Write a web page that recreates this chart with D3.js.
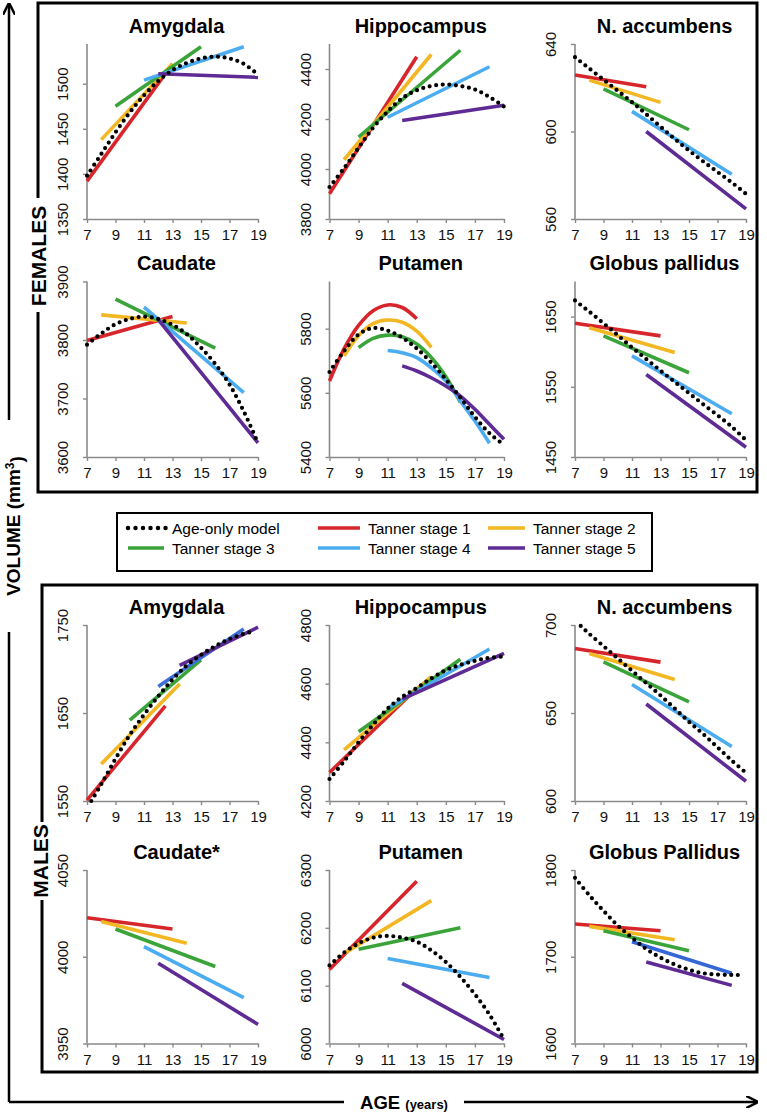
<!DOCTYPE html>
<html><head><meta charset="utf-8">
<script src="https://cdn.jsdelivr.net/npm/d3@7"></script>
<style>
body{margin:0;background:#fff;}
svg text{font-family:"Liberation Sans",Arial,sans-serif;}
</style></head><body>
<svg id="chart" width="767" height="1113"></svg>
<script>
// ---------- data ----------
const xTicks = [7, 9, 11, 13, 15, 17, 19];
const seriesNames = ["Age-only model", "Tanner stage 1", "Tanner stage 2", "Tanner stage 3", "Tanner stage 4", "Tanner stage 5"];
const stageColors = ["#d7262b", "#f2b722", "#3aa43a", "#4bacef", "#5e2a94"];

// Females
const fAmygTicks = [1350, 1400, 1450, 1500];
const fAmygStages = [[[7,1392],[13,1522]],[[8,1438],[13,1522]],[[9,1475],[15,1541]],[[11,1504],[18,1541]],[[12,1511],[19,1507]]];
const fAmygAge = [[7,1398],[8,1422],[9,1446],[10,1468],[11,1487],[12,1503],[13,1515],[14,1523],[15,1528],[16,1530],[17,1528],[18,1522],[19,1510]];

const fHippTicks = [3800, 4000, 4200, 4400];
const fHippStages = [[[7,3901],[13,4449]],[[8,4037],[14,4458]],[[9,4128],[16,4475]],[[11,4207],[18,4409]],[[12,4194],[19,4255]]];
const fHippAge = [[7,3928],[8,4003],[9,4085],[10,4165],[11,4230],[12,4283],[13,4315],[14,4332],[15,4338],[16,4332],[17,4318],[18,4288],[19,4250]];

const fNaccTicks = [560, 600, 640];
const fNaccStages = [[[7,625.8],[12,620.5]],[[8,623.5],[13,613.3]],[[9,619.5],[15,600.8]],[[11,609.2],[18,580.5]],[[12,600],[19,564.6]]];
const fNaccAge = [[7,634],[8,628.8],[9,623.7],[10,618.6],[11,613.4],[12,607.9],[13,602.2],[14,596.6],[15,591.3],[16,586.3],[17,581.5],[18,576.7],[19,571.5]];

const fCaudTicks = [3600, 3700, 3800, 3900];
const fCaudStages = [[[7,3799],[13,3840]],[[8,3843],[14,3829]],[[9,3870],[16,3786]],[[11,3856],[18,3710]],[[12,3835],[19,3624]]];
const fCaudAge = [[7,3792],[8,3811],[9,3827],[10,3836],[11,3840],[12,3836],[13,3826],[14,3810],[15,3787],[16,3759],[17,3724],[18,3678],[19,3624]];

const fPutTicks = [5400, 5600, 5800];
const fPutStages = [
  [[7,5637],[8,5737],[9,5810],[10,5856],[11,5874],[12,5866],[13,5831]],
  [[8,5715],[9,5779],[10,5816],[11,5827],[12,5820],[13,5792],[14,5742]],
  [[9,5741],[10,5770],[11,5780],[12,5775],[13,5752],[14,5710],[15,5650],[16,5570]],
  [[11,5732],[12,5725],[13,5710],[14,5678],[15,5637],[16,5575],[17,5512],[18,5443]],
  [[12,5684],[13,5668],[14,5647],[15,5621],[16,5590],[17,5549],[18,5502],[19,5455]]
];
const fPutAge = [[7,5665],[8,5730],[9,5782],[10,5802],[11,5794],[12,5772],[13,5738],[14,5694],[15,5642],[16,5585],[17,5525],[18,5474],[19,5438]];

const fGpTicks = [1450, 1550, 1650];
const fGpStages = [[[7,1640.5],[13,1622.5]],[[8,1634],[14,1599]],[[9,1622.5],[15,1570]],[[11,1594],[18,1511.6]],[[12,1567.5],[19,1464]]];
const fGpAge = [[7,1673],[8,1657],[9,1640.5],[10,1623.5],[11,1606],[12,1589.5],[13,1573],[14,1557],[15,1541],[16,1525],[17,1509.5],[18,1493],[19,1474]];

// Males
const mAmygTicks = [1550, 1650, 1750];
const mAmygStages = [[[7,1551],[12.5,1658]],[[8,1592],[13.5,1683]],[[10,1642],[15,1710.5]],[[12,1680],[18,1745.5]],[[13.5,1704],[19,1747.5]]];
const mAmygAge = [[7.3,1550],[8,1569],[9,1598],[10,1625],[11,1648],[12,1669],[13,1688],[14,1704],[15,1716],[16,1726],[17,1734],[18,1740],[18.5,1742]];

const mHippTicks = [4200, 4400, 4600, 4800];
const mHippStages = [[[7,4297],[13,4584]],[[8,4374],[14,4624]],[[9,4436],[16,4683]],[[11,4516],[18,4718]],[[12,4547],[19,4703]]];
const mHippAge = [[7,4275],[8,4335],[9,4400],[10,4460],[11,4515],[12,4555],[13,4585],[14,4618],[15,4646],[16,4664],[17,4678],[18,4688],[19,4693]];

const mNaccTicks = [600, 650, 700];
const mNaccStages = [[[7,686.7],[13,678.9]],[[8,683.8],[14,669]],[[9,679.1],[15,656.3]],[[11,666.2],[18,631]],[[12,655.1],[19,611.2]]];
const mNaccAge = [[7.4,699.5],[8,695],[9,688],[10,681],[11,674],[12,667],[13,660],[14,652.5],[15,645],[16,638],[17,630.5],[18,623],[19,616]];

const mCaudTicks = [3950, 4000, 4050];
const mCaudStages = [[[7,4022.5],[13,4016]],[[8,4020.3],[14,4007.8]],[[9,4016],[16,3994.4]],[[11,4005.8],[18,3976.4]],[[12,3996.3],[19,3961]]];
const mCaudAge = [];

const mPutTicks = [6000, 6100, 6200, 6300];
const mPutStages = [[[7,6128],[13,6280.5]],[[8,6155.6],[14,6247]],[[9,6163],[16,6200]],[[11,6147],[18,6114]],[[12,6104],[19,6007]]];
const mPutAge = [[7,6135],[8,6157],[9,6173],[10,6183],[11,6186],[12,6183],[13,6176],[14,6161],[15,6141],[16,6115],[17,6085],[18,6050],[19,6007]];

const mGpTicks = [1600, 1700, 1800];
const mGpStages = [[[7,1737.7],[13,1730]],[[8,1735],[14,1719.6]],[[9,1730],[15,1707]],[[11,1717.3],[18,1681]],[[12,1694],[18,1667]]];
const mGpAge = [[7,1791],[8,1771],[9,1753],[10,1736],[11,1722],[12,1709],[13,1699],[14,1691],[15,1685],[16,1681],[17,1679.5],[18,1679],[18.7,1679]];

// ---------- layout ----------
const colX = [[87, 258], [329.5, 504], [575, 746]];
const rowY = [[219, 44], [457, 281.5], [801, 625], [1043.5, 870]];

const panels = [
  {title:"Amygdala", col:0, row:0, dom:[1350,1544], ticks:fAmygTicks, stages:fAmygStages, age:fAmygAge},
  {title:"Hippocampus", col:1, row:0, dom:[3800,4500], ticks:fHippTicks, stages:fHippStages, age:fHippAge},
  {title:"N. accumbens", col:2, row:0, dom:[560,640], ticks:fNaccTicks, stages:fNaccStages, age:fNaccAge},
  {title:"Caudate", col:0, row:1, dom:[3600,3900], ticks:fCaudTicks, stages:fCaudStages, age:fCaudAge},
  {title:"Putamen", col:1, row:1, dom:[5400,5947], ticks:fPutTicks, stages:fPutStages, age:fPutAge, curved:true},
  {title:"Globus pallidus", col:2, row:1, dom:[1450,1700], ticks:fGpTicks, stages:fGpStages, age:fGpAge},
  {title:"Amygdala", col:0, row:2, dom:[1550,1750], ticks:mAmygTicks, stages:mAmygStages, age:mAmygAge, blue4:"#3a70d8"},
  {title:"Hippocampus", col:1, row:2, dom:[4200,4800], ticks:mHippTicks, stages:mHippStages, age:mHippAge},
  {title:"N. accumbens", col:2, row:2, dom:[600,700], ticks:mNaccTicks, stages:mNaccStages, age:mNaccAge},
  {title:"Caudate*", col:0, row:3, dom:[3950,4050], ticks:mCaudTicks, stages:mCaudStages, age:mCaudAge},
  {title:"Putamen", col:1, row:3, dom:[6000,6300], ticks:mPutTicks, stages:mPutStages, age:mPutAge},
  {title:"Globus Pallidus", col:2, row:3, dom:[1600,1800], ticks:mGpTicks, stages:mGpStages, age:mGpAge, blue4:"#3566d6"}
];

const svg = d3.select("#chart");
svg.append("rect").attr("width",767).attr("height",1113).attr("fill","#fff");

const axisColor = "#8a8a8a";

panels.forEach(p => {
  const [x0, x1] = colX[p.col];
  const [yb, yt] = rowY[p.row];
  const x = d3.scaleLinear().domain([7,19]).range([x0, x1]);
  const y = d3.scaleLinear().domain(p.dom).range([yb, yt]);
  const g = svg.append("g");

  // title
  g.append("text").attr("x", (x0+x1)/2 + 4).attr("y", yt - 11.5)
    .attr("text-anchor","middle").attr("font-size", 20).attr("font-weight","bold")
    .attr("fill","#000").text(p.title);

  // x axis
  const xa = g.append("g").attr("transform",`translate(0,${yb})`)
    .call(d3.axisBottom(x).tickValues(xTicks).tickSize(4).tickSizeOuter(0).tickPadding(3).tickFormat(d3.format("d")));
  // y axis
  const ya = g.append("g").attr("transform",`translate(${x0},0)`)
    .call(d3.axisLeft(y).tickValues(p.ticks).tickSize(4).tickSizeOuter(0).tickPadding(0).tickFormat(d3.format("d")));
  [xa, ya].forEach(a => {
    a.select(".domain").attr("stroke", axisColor).attr("stroke-width", 1.6);
    a.selectAll(".tick line").attr("stroke", axisColor).attr("stroke-width", 1.4);
    a.selectAll("text").attr("fill","#111").attr("font-size", 15)
      .attr("font-family", '"Liberation Sans",Arial,sans-serif');
  });
  ya.select(".domain").attr("d", `M0,${yb}V${yt}`);
  xa.selectAll("text").attr("dy", "0.95em");
  ya.selectAll(".tick text").attr("text-anchor","middle")
    .attr("transform", "translate(-24,0) rotate(-90)").attr("x",0).attr("dy","0.35em");

  // stage lines
  const line = d3.line().x(d => x(d[0])).y(d => y(d[1]));
  if (p.curved) line.curve(d3.curveCatmullRom);
  p.stages.forEach((s, i) => {
    let c = stageColors[i];
    if (i === 3 && p.blue4) c = p.blue4;
    g.append("path").datum(s).attr("d", line).attr("fill","none")
      .attr("stroke", c).attr("stroke-width", 3.6).attr("stroke-linecap","butt");
  });
  // age-only model (dotted)
  if (p.age.length) {
    const aline = d3.line().x(d => x(d[0])).y(d => y(d[1])).curve(d3.curveCatmullRom);
    g.append("path").datum(p.age).attr("d", aline).attr("fill","none")
      .attr("stroke","#000").attr("stroke-width", 4.2).attr("stroke-linecap","round")
      .attr("stroke-dasharray","0,6.6");
  }
});

// ---------- frames ----------
const frame = svg.append("g").attr("fill","none").attr("stroke","#000").attr("stroke-width",3);
frame.append("path").attr("d","M38,198V3H757V492H38V312");
frame.append("path").attr("d","M42,822V585H757V1072H42V900");

svg.append("text").attr("transform","translate(38,256) rotate(-90)").attr("text-anchor","middle")
  .attr("dy","0.36em").attr("font-size",21).attr("font-weight","bold").text("FEMALES");
svg.append("text").attr("transform","translate(40,861) rotate(-90)").attr("text-anchor","middle")
  .attr("dy","0.36em").attr("font-size",21).attr("font-weight","bold").text("MALES");

// arrows
const defs = svg.append("defs");
defs.append("marker").attr("id","arr").attr("viewBox","0 0 10 10").attr("refX",9).attr("refY",5)
  .attr("markerWidth",5).attr("markerHeight",5).attr("orient","auto")
  .append("path").attr("d","M0,0L10,5L0,10").attr("fill","none").attr("stroke","#000").attr("stroke-width",2);
const arr = svg.append("g").attr("stroke","#000").attr("stroke-width",2.5).attr("fill","none");
arr.append("path").attr("d","M9,1102V632");
arr.append("path").attr("d","M9,420V4").attr("marker-end","url(#arr)");
arr.append("path").attr("d","M9,1102H344");
arr.append("path").attr("d","M464,1102H757").attr("marker-end","url(#arr)");

const vt = svg.append("text").attr("transform","translate(13,526) rotate(-90)").attr("text-anchor","middle")
  .attr("dy","0.36em").attr("font-size",19).attr("font-weight","bold");
vt.append("tspan").text("VOLUME (mm");
vt.append("tspan").attr("font-size",12).attr("dy","-0.5em").text("3");
vt.append("tspan").attr("dy","0.5em").attr("font-size",19).text(")");

const ht = svg.append("text").attr("x",404).attr("y",1102).attr("text-anchor","middle")
  .attr("dy","0.36em").attr("font-size",18.5).attr("font-weight","bold");
ht.append("tspan").text("AGE ");
ht.append("tspan").attr("font-size",13).text("(years)");

// ---------- legend ----------
const lg = svg.append("g");
lg.append("rect").attr("x",117).attr("y",513).attr("width",535).attr("height",58)
  .attr("fill","#fff").attr("stroke","#000").attr("stroke-width",2);
const legCols = [[128,172],[318,368],[488,533]];
const legRows = [528, 548];
seriesNames.forEach((n, i) => {
  const c = i % 3, r = Math.floor(i / 3);
  const [lx, tx] = legCols[c];
  const ly = legRows[r];
  const gi = lg.append("g");
  if (i === 0) {
    gi.append("line").attr("x1",lx).attr("x2",lx+38).attr("y1",ly).attr("y2",ly)
      .attr("stroke","#000").attr("stroke-width",4.5).attr("stroke-linecap","round").attr("stroke-dasharray","0,7.5");
  } else {
    gi.append("line").attr("x1",lx).attr("x2",tx-8).attr("y1",ly).attr("y2",ly)
      .attr("stroke",stageColors[i-1]).attr("stroke-width",3.6);
  }
  gi.append("text").attr("x",tx).attr("y",ly).attr("dy","0.36em").attr("font-size",15.5).attr("fill","#000").text(n);
});
</script>
</body></html>
